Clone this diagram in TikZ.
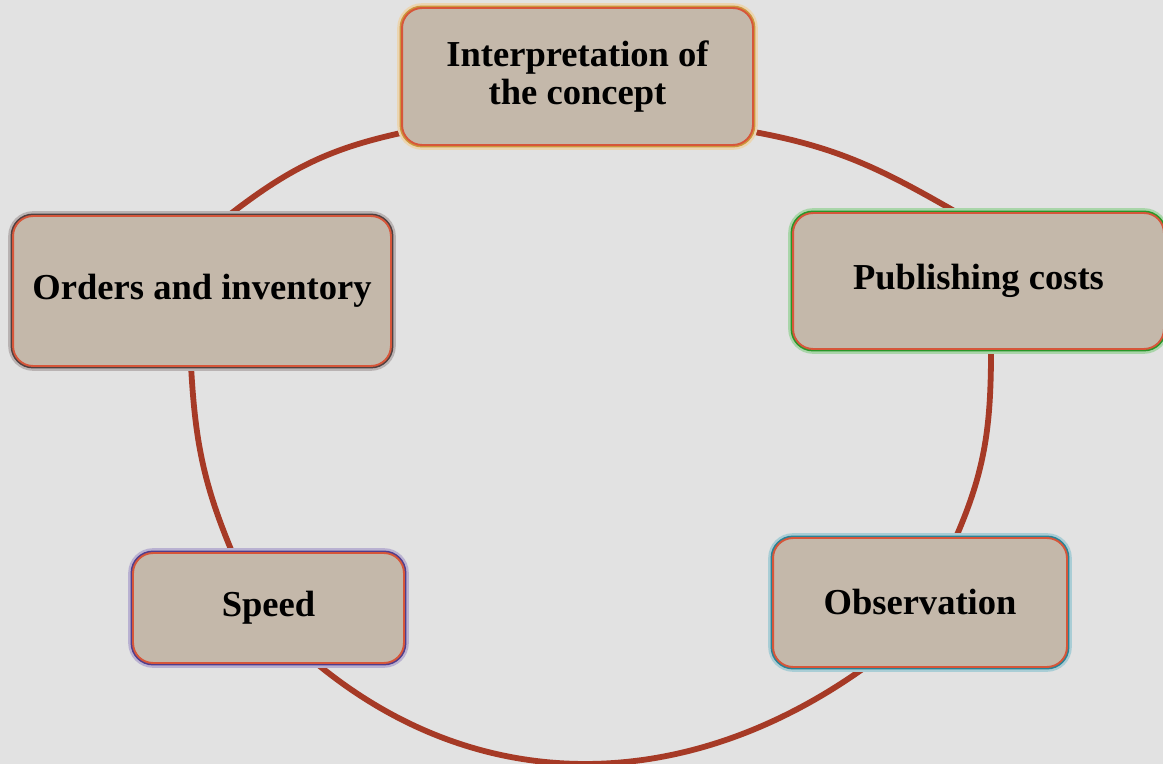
\documentclass[tikz,border=0pt]{standalone}
\usepackage{fontspec}
\setmainfont{Liberation Serif}
\usepackage{xcolor}
\usepackage{tikz}
\usetikzlibrary{calc,backgrounds}
\definecolor{bggray}{RGB}{226,226,226}
\definecolor{boxfill}{RGB}{196,184,170}
\definecolor{boxred}{RGB}{214,86,58}
\definecolor{linkred}{RGB}{166,58,38}
\definecolor{glowgold}{RGB}{205,150,60}
\definecolor{glowdark}{RGB}{80,64,64}
\definecolor{glowgreen}{RGB}{40,150,40}
\definecolor{glowviolet}{RGB}{80,60,140}
\definecolor{glowteal}{RGB}{40,130,150}
\newcommand{\stagefont}{\fontsize{20.8}{21.5}\selectfont\bfseries}
\tikzset{
	stage/.style={
			draw=boxred, line width=1.1pt, fill=boxfill,
			rounded corners=0.4cm, align=center, inner sep=0pt, font=\stagefont,
			preaction={draw=#1!40, line width=5.5pt},
			preaction={draw=#1, line width=2.8pt}
		},
	link/.style={draw=linkred, line width=3.3pt, shorten <=-3pt, shorten >=-3pt}
}

\begin{document}
\begin{tikzpicture}[x=0.02cm,y=0.02cm]
		% Background
		\useasboundingbox (0,0) rectangle (1163,764);
		\begin{scope}[on background layer]
			\fill[bggray] (0,0) rectangle (1163,764);
		\end{scope}

		% Stages of the cycle
		\node[stage=glowgold, minimum width=7.02cm, minimum height=2.74cm] (interp) at (577.5,687.5) {Interpretation of\\the concept};
		\node[stage=glowgreen, minimum width=7.42cm, minimum height=2.72cm] (pub) at (978.5,483) {Publishing costs};
		\node[stage=glowteal, minimum width=5.88cm, minimum height=2.58cm] (obs) at (920,161.5) {Observation};
		\node[stage=glowviolet, minimum width=5.42cm, minimum height=2.2cm] (speed) at (268.5,156) {Speed};
		\node[stage=glowdark, minimum width=7.56cm, minimum height=3cm] (orders) at (202,473) {Orders and inventory};

		% Arcs between the stages
		\begin{scope}[on background layer]
			\draw[link] ($(interp.south east)+(0,14)$) to[out=-10, in=150] ($(pub.north west)+(164,0)$);
			\draw[link] ($(pub.south west)+(199,0)$) to[out=-90, in=66] ($(obs.north west)+(184,0)$);
			\draw[link] ($(obs.south west)+(92,0)$) to[out=216, in=320] ($(speed.south west)+(185,0)$);
			\draw[link] ($(speed.north west)+(100,0)$) to[out=113, in=273] ($(orders.south west)+(179,0)$);
			\draw[link] ($(orders.north west)+(217,0)$) to[out=38, in=192] ($(interp.south west)+(0,13)$);
		\end{scope}
	\end{tikzpicture}
\end{document}
